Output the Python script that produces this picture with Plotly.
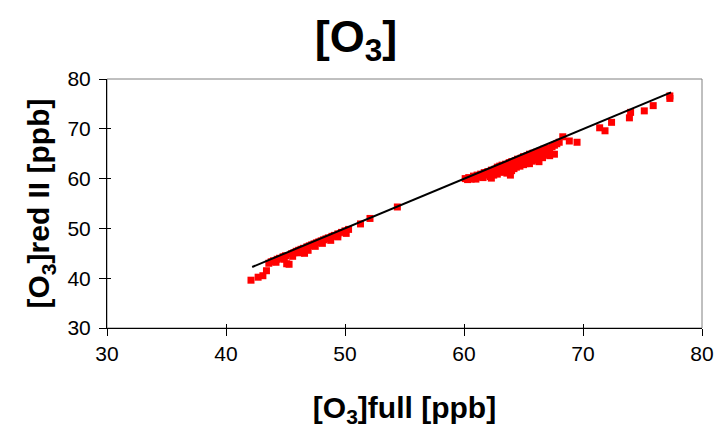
import plotly.graph_objects as go

# [O3] full vs reduced II, ppb
o3_full = [
    42.1, 42.7, 43.1, 43.4, 43.6, 43.8, 44.0, 44.3, 44.5, 44.8, 45.0, 45.1,
    45.3, 45.5, 45.7, 45.9, 46.1, 46.3, 46.5, 46.6, 46.8, 47.0, 47.2, 47.4,
    47.6, 47.8, 48.0, 48.2, 48.4, 48.6, 48.9, 49.1, 49.4, 49.7, 50.0, 50.3,
    44.2, 44.9, 45.6, 46.2, 46.9, 47.5, 48.1, 48.8, 49.4, 50.1,
    51.3, 52.1, 54.4,
    60.1, 60.3, 60.4, 60.6, 60.8, 60.9, 61.1, 61.2, 61.4, 61.5, 61.7, 61.8,
    62.0, 62.1, 62.2, 62.3, 62.3, 62.4, 62.6, 62.7, 62.8, 62.9, 63.0, 63.1,
    63.2, 63.3, 63.4, 63.5, 63.6, 63.6, 63.8, 63.9, 63.9, 64.0, 64.1, 64.2,
    64.3, 64.4, 64.5, 64.6, 64.7, 64.8, 64.9, 65.0, 65.1, 65.2, 65.3, 65.4,
    65.5, 65.6, 65.7, 65.8, 65.9, 66.05, 66.1, 66.2, 66.3, 66.4, 66.5, 66.7,
    66.8, 66.9, 66.9, 67.0, 67.2, 67.4, 67.6, 67.6, 67.8, 68.0, 68.3, 68.85,
    69.5,
    61.0, 61.6, 62.5, 63.0, 63.7, 64.4, 65.0, 65.5, 66.2, 66.6, 67.2, 64.0,
    62.8,
    71.4, 71.85, 72.4, 73.9, 74.0, 75.15, 75.9, 77.3, 77.3,
]
o3_red2 = [
    39.6, 40.2, 40.5, 41.5, 43.0, 43.3, 43.5, 43.8, 44.0, 44.3, 44.5, 42.9,
    42.8, 44.9, 45.1, 45.4, 45.6, 45.8, 46.0, 45.0, 46.3, 46.5, 46.7, 46.9,
    47.1, 47.3, 47.5, 47.7, 47.9, 48.1, 48.4, 48.6, 48.9, 49.2, 49.5, 49.8,
    43.2, 43.8, 44.4, 45.1, 45.6, 46.4, 47.0, 47.6, 48.3, 49.0,
    50.9, 52.0, 54.3,
    60.0, 59.8, 60.2, 59.9, 60.5, 60.1, 60.7, 60.3, 60.9, 60.5, 61.2, 60.7,
    61.4, 60.9, 60.4, 61.7, 60.1, 61.2, 61.9, 61.4, 62.3, 61.7, 62.5, 61.9,
    62.7, 62.2, 61.3, 62.9, 61.1, 62.5, 63.2, 62.7, 60.7, 63.4, 62.9, 62.0,
    63.6, 63.1, 63.9, 63.3, 62.5, 64.1, 63.6, 64.4, 63.8, 63.0, 64.6, 64.1,
    64.9, 64.3, 63.5, 65.1, 64.6, 63.7, 65.3, 64.8, 63.4, 65.6, 65.0, 65.9,
    64.9, 65.4, 64.9, 66.1, 65.7, 66.4, 64.9, 66.7, 67.0, 67.3, 68.4, 67.55,
    67.3,
    59.9, 60.2, 60.7, 61.3, 61.7, 62.3, 62.8, 63.0, 63.9, 64.2, 64.6, 61.6,
    60.9,
    70.2, 69.6, 71.3, 72.2, 73.3, 73.6, 74.65, 76.1, 76.6,
]

# fitted line end points
fit_x = [42.2, 77.4]
fit_y = [42.25, 77.3]

axis_range = [30, 80]
tick_vals = [30, 40, 50, 60, 70, 80]

fig = go.Figure()

fig.add_trace(go.Scatter(
    x=o3_full, y=o3_red2, mode='markers',
    marker=dict(symbol='square', size=7, color='#ff0000', line=dict(width=0)),
))
fig.add_trace(go.Scatter(
    x=fit_x, y=fit_y, mode='lines', line=dict(color='black', width=2),
))
# empty trace so the inner-tick overlay axes get drawn
fig.add_trace(go.Scatter(x=[], y=[], xaxis='x2', yaxis='y2', hoverinfo='skip'))

tick_font = dict(family='Liberation Sans, Arial', size=21, color='black')
title_font = dict(family='Liberation Sans, Arial', size=30, color='black')

fig.update_layout(
    width=716, height=428,
    margin=dict(l=107, r=14, t=79, b=100),
    paper_bgcolor='white', plot_bgcolor='white',
    showlegend=False,
    title=dict(text='<b>[O<sub>3</sub>]</b>', x=356 / 716, xref='container', xanchor='center',
               y=1 - 36 / 428, yanchor='middle',
               font=dict(family='Liberation Sans, Arial', size=45, color='black')),
    xaxis=dict(range=axis_range, tickvals=tick_vals, ticks='outside', ticklen=7,
               tickcolor='black', showline=True, linecolor='black', linewidth=1,
               showgrid=False, zeroline=False, tickfont=tick_font, automargin=False,
               title=dict(text='<b>[O<sub>3</sub>]full [ppb]</b>', font=title_font, standoff=34)),
    yaxis=dict(range=axis_range, tickvals=tick_vals, ticks='outside', ticklen=7,
               tickcolor='black', showline=True, linecolor='black', linewidth=1,
               showgrid=False, zeroline=False, tickfont=tick_font, ticklabelstandoff=4,
               automargin=False,
               title=dict(text='<b>[O<sub>3</sub>]red II [ppb]</b>', font=title_font, standoff=8)),
    xaxis2=dict(range=axis_range, tickvals=tick_vals, ticks='inside', ticklen=4,
                tickcolor='black', overlaying='x', anchor='y2', side='bottom',
                showticklabels=False, showgrid=False, zeroline=False, showline=False),
    yaxis2=dict(range=axis_range, tickvals=tick_vals, ticks='inside', ticklen=4,
                tickcolor='black', overlaying='y', anchor='x2', side='left',
                showticklabels=False, showgrid=False, zeroline=False, showline=False),
    shapes=[dict(type='rect', xref='paper', yref='paper', x0=0, x1=1, y0=0, y1=1,
                 line=dict(color='#808080', width=1), layer='below')],
)

# drop the browser's default 8px body margin so the figure sits at the page corner
fig.write_html("out.html", config={'displayModeBar': False},
               post_script="document.body.style.margin='0';")
